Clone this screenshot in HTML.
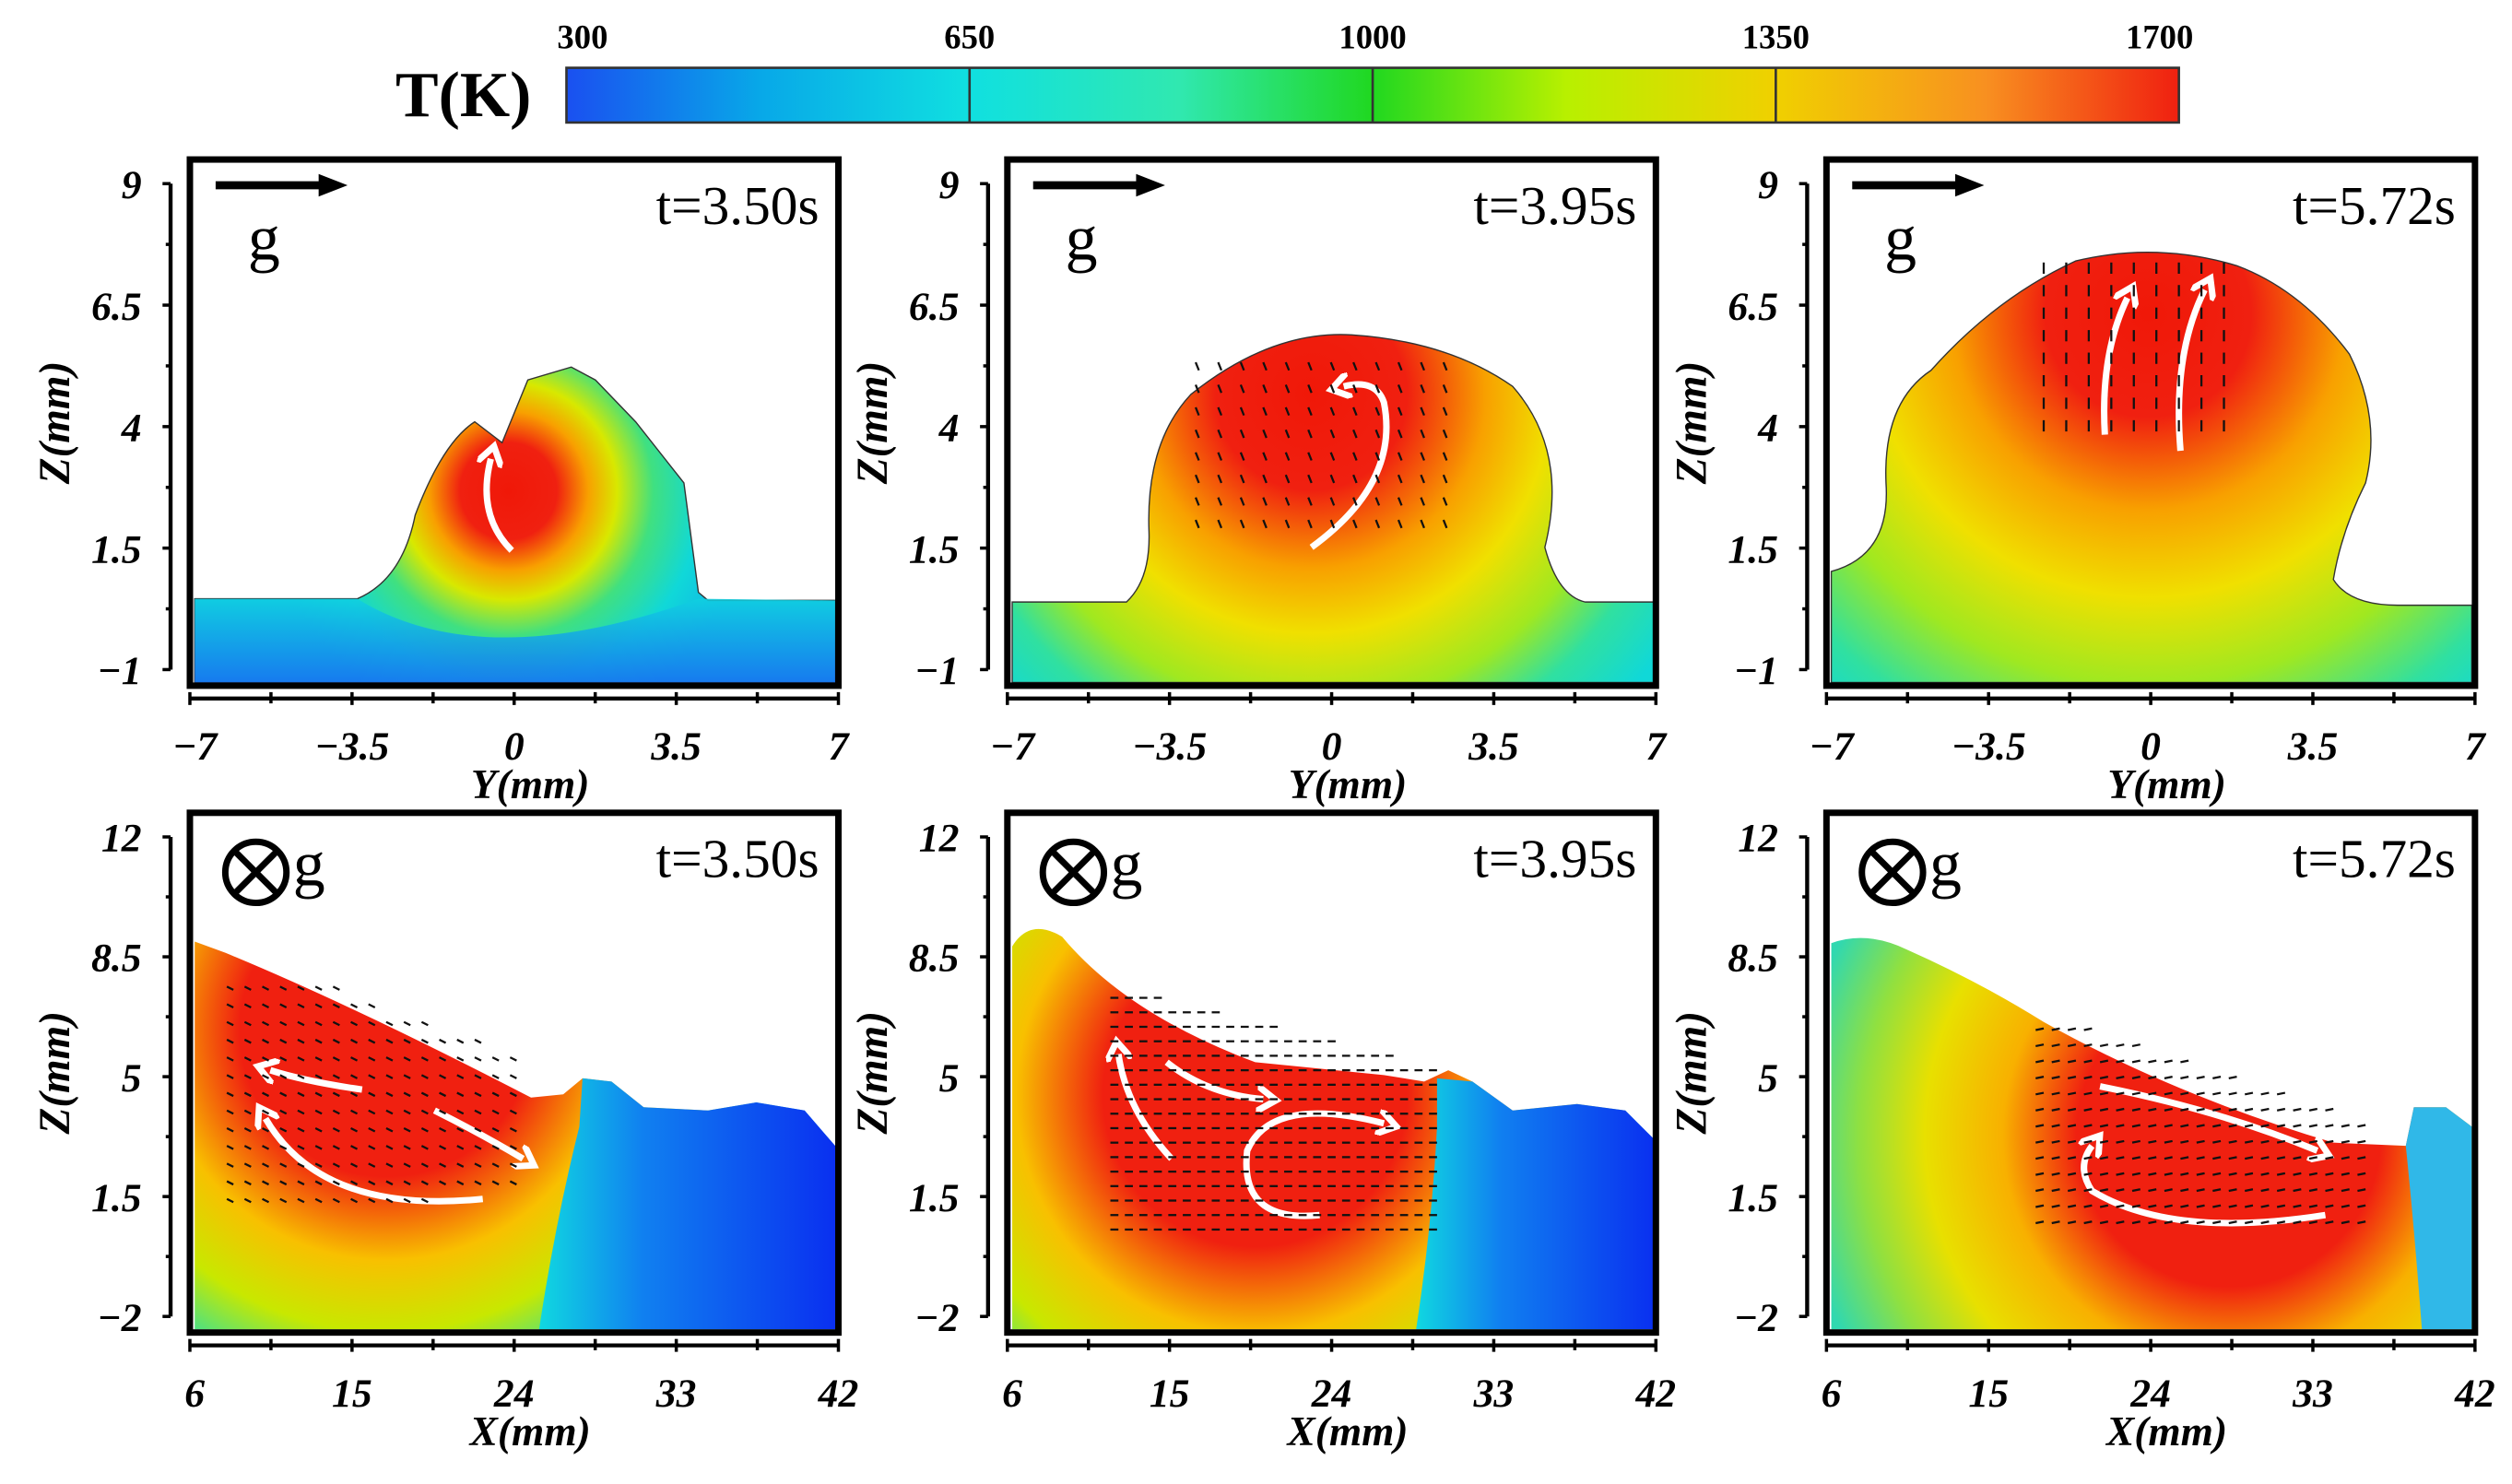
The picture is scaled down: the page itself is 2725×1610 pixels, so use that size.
<!DOCTYPE html>
<html><head><meta charset="utf-8"><style>
html,body{margin:0;padding:0;background:#fff;}
svg{display:block;}
text{font-family:"Liberation Serif",serif;}
</style></head><body>
<svg id="fig" width="2725" height="1610" viewBox="0 0 1561 922" xmlns="http://www.w3.org/2000/svg">
<defs>
<linearGradient id="cbar" x1="0" x2="1" y1="0" y2="0">
<stop offset="0" stop-color="#1a50f0"/><stop offset="0.12" stop-color="#08a8e8"/><stop offset="0.25" stop-color="#10e0e0"/>
<stop offset="0.38" stop-color="#30e8b0"/><stop offset="0.5" stop-color="#20d820"/><stop offset="0.62" stop-color="#b8f000"/>
<stop offset="0.75" stop-color="#f0d000"/><stop offset="0.88" stop-color="#f89020"/><stop offset="1" stop-color="#f02010"/>
</linearGradient>
<radialGradient id="t1" gradientUnits="userSpaceOnUse" cx="316" cy="305" r="150">
<stop offset="0" stop-color="#f01808"/><stop offset="0.2" stop-color="#f02010"/><stop offset="0.33" stop-color="#f8a000"/>
<stop offset="0.45" stop-color="#d8e800"/><stop offset="0.6" stop-color="#40e080"/><stop offset="0.8" stop-color="#10d8d8"/><stop offset="1" stop-color="#10b8e8"/>
</radialGradient>
<linearGradient id="b1" x1="0" x2="0" y1="0" y2="1"><stop offset="0" stop-color="#10d0e0"/><stop offset="1" stop-color="#1870f0"/></linearGradient>
<radialGradient id="t2" gradientUnits="userSpaceOnUse" cx="815" cy="245" r="270">
<stop offset="0" stop-color="#f01808"/><stop offset="0.22" stop-color="#f02010"/><stop offset="0.4" stop-color="#f8a000"/>
<stop offset="0.55" stop-color="#f0e000"/><stop offset="0.72" stop-color="#a0e820"/><stop offset="0.85" stop-color="#30e0a0"/><stop offset="1" stop-color="#10d8d8"/>
</radialGradient>
<radialGradient id="t3" gradientUnits="userSpaceOnUse" cx="1335" cy="195" r="320">
<stop offset="0" stop-color="#f01808"/><stop offset="0.2" stop-color="#f02010"/><stop offset="0.38" stop-color="#f8a000"/>
<stop offset="0.55" stop-color="#f0e000"/><stop offset="0.72" stop-color="#a0e820"/><stop offset="0.88" stop-color="#30e0a0"/><stop offset="1" stop-color="#10d8d8"/>
</radialGradient>
<radialGradient id="bb1" gradientUnits="userSpaceOnUse" cx="240" cy="640" r="260">
<stop offset="0" stop-color="#f02010"/><stop offset="0.35" stop-color="#f02010"/><stop offset="0.55" stop-color="#f8c000"/>
<stop offset="0.72" stop-color="#c8e800"/><stop offset="0.88" stop-color="#30e0a0"/><stop offset="1" stop-color="#10c8e0"/>
</radialGradient>
<radialGradient id="bb2" gradientUnits="userSpaceOnUse" cx="780" cy="680" r="270">
<stop offset="0" stop-color="#f02010"/><stop offset="0.35" stop-color="#f02010"/><stop offset="0.55" stop-color="#f8c000"/>
<stop offset="0.72" stop-color="#c8e800"/><stop offset="0.88" stop-color="#30e0a0"/><stop offset="1" stop-color="#10c8e0"/>
</radialGradient>
<radialGradient id="bb3" gradientUnits="userSpaceOnUse" cx="1385" cy="705" r="270">
<stop offset="0" stop-color="#f02010"/><stop offset="0.35" stop-color="#f02010"/><stop offset="0.52" stop-color="#f8b000"/>
<stop offset="0.7" stop-color="#e8e000"/><stop offset="0.85" stop-color="#90e040"/><stop offset="1" stop-color="#30d8b0"/>
</radialGradient>
<linearGradient id="blue" x1="0" x2="1" y1="0" y2="0"><stop offset="0" stop-color="#10d8e0"/><stop offset="0.35" stop-color="#1080f0"/><stop offset="1" stop-color="#0a30f0"/></linearGradient>
<marker id="wh" markerWidth="4" markerHeight="4" refX="1" refY="2" orient="auto"><path d="M0,0 L3,2 L0,4" fill="none" stroke="#fff" stroke-width="1"/></marker>
</defs>

<g>
<text x="288" y="72" font-size="40" font-weight="bold" text-anchor="middle">T(K)</text>
<rect x="352" y="42" width="1002" height="34" fill="url(#cbar)" stroke="#333" stroke-width="1.5"/>
<g id="cbticks"></g>
</g>

<g>
<path d="M121,372 L222,372 Q250,360 258,320 Q275,275 295,262 L312,275 L328,236 L355,228 L370,236 L395,262 L425,300 L434,368 L440,373 L519,373 L519,424 L121,424 Z" fill="url(#t1)" stroke="#333" stroke-width="0.8"/>
<path d="M121,372 L222,372 Q300,420 434,372 L519,373 L519,424 L121,424 Z" fill="url(#b1)" opacity="0.85"/>
<path d="M318,342 Q296,320 305,285" fill="none" stroke="#fff" stroke-width="4" marker-end="url(#wh)"/>
</g>
<g>
<path d="M629,374 L700,374 Q715,360 714,330 Q712,275 740,245 Q790,205 840,208 Q900,212 940,240 Q975,280 960,340 Q968,370 985,374 L1028,374 L1028,424 L629,424 Z" fill="url(#t2)" stroke="#333" stroke-width="0.8"/>
<path d="M815,340 Q870,300 860,250 Q855,235 835,240" fill="none" stroke="#fff" stroke-width="4" marker-end="url(#wh)"/>
</g>
<g>
<path d="M1138,355 Q1175,345 1172,300 Q1170,250 1200,230 Q1240,185 1290,162 Q1340,150 1390,165 Q1430,180 1460,220 Q1480,260 1470,300 Q1455,330 1450,360 Q1460,376 1490,376 L1536,376 L1536,424 L1138,424 Z" fill="url(#t3)" stroke="#333" stroke-width="0.8"/>
<path d="M1308,270 Q1305,220 1322,185" fill="none" stroke="#fff" stroke-width="4" marker-end="url(#wh)"/>
<path d="M1355,280 Q1350,220 1370,180" fill="none" stroke="#fff" stroke-width="4" marker-end="url(#wh)"/>
</g>
<g>
<path d="M121,585 L140,592 Q220,625 330,682 L350,680 L362,670 L380,672 L400,688 L440,690 L470,685 L500,690 L519,712 L519,826 L121,826 Z" fill="url(#bb1)"/>
<path d="M362,670 L380,672 L400,688 L440,690 L470,685 L500,690 L519,712 L519,826 L335,826 Q345,760 360,700 Z" fill="url(#blue)"/>
<path d="M270,690 Q300,705 325,720" fill="none" stroke="#fff" stroke-width="4" marker-end="url(#wh)"/>
<path d="M225,677 Q190,672 168,665" fill="none" stroke="#fff" stroke-width="4" marker-end="url(#wh)"/>
<path d="M300,745 Q200,755 165,695" fill="none" stroke="#fff" stroke-width="4" marker-end="url(#wh)"/>
</g>
<g>
<path d="M629,588 Q640,570 660,582 Q700,630 780,660 L860,668 L885,672 L900,665 L915,672 L940,690 L980,686 L1010,690 L1028,708 L1028,826 L629,826 Z" fill="url(#bb2)"/>
<path d="M893,670 L915,672 L940,690 L980,686 L1010,690 L1028,708 L1028,826 L880,826 Q890,760 893,700 Z" fill="url(#blue)"/>
<path d="M728,720 Q700,690 695,655" fill="none" stroke="#fff" stroke-width="4" marker-end="url(#wh)"/>
<path d="M725,660 Q750,680 785,683" fill="none" stroke="#fff" stroke-width="4" marker-end="url(#wh)"/>
<path d="M820,755 Q770,760 775,715 Q790,680 860,698" fill="none" stroke="#fff" stroke-width="4" marker-end="url(#wh)"/>
</g>
<g>
<path d="M1138,586 Q1160,578 1185,590 Q1230,610 1270,635 Q1350,680 1450,710 L1495,712 L1500,688 L1520,688 L1536,700 L1536,826 L1138,826 Z" fill="url(#bb3)"/>
<path d="M1495,712 L1500,688 L1520,688 L1536,700 L1536,826 L1505,826 Q1500,760 1495,712 Z" fill="#30b8e8"/>
<path d="M1305,675 Q1380,690 1440,715" fill="none" stroke="#fff" stroke-width="4" marker-end="url(#wh)"/>
<path d="M1445,755 Q1350,770 1300,740 Q1290,725 1300,712" fill="none" stroke="#fff" stroke-width="4" marker-end="url(#wh)"/>
</g>

<g id="axes"></g>
<g id="arrows"></g>
</svg>
<script>
const NS="http://www.w3.org/2000/svg";
const cbValues=[300,650,1000,1350,1700];
const topYTicks=[9,6.5,4,1.5,-1];
const topXTicks=[-7,-3.5,0,3.5,7];
const botYTicks=[12,8.5,5,1.5,-2];
const botXTicks=[6,15,24,33,42];
const times=["t=3.50s","t=3.95s","t=5.72s"];
const panelX=[118,626,1135];
const svg=document.getElementById('fig');
function el(t,a,p){const e=document.createElementNS(NS,t);for(const k in a)e.setAttribute(k,a[k]);(p||svg).appendChild(e);return e;}
const cb=document.getElementById('cbticks');
const cbx=v=>352+(v-300)/(1700-300)*1002;
cbValues.forEach((v,i)=>{
  if(i>0&&i<cbValues.length-1){const l=el('line',{x1:cbx(v),x2:cbx(v),y1:42,y2:76,stroke:'#333','stroke-width':1.5},cb);
  
  }
  const t=el('text',{x:cbx(v)-(i==cbValues.length-1?12:0)+(i==0?10:0),y:30,'font-size':21,'font-weight':'bold','font-family':'Liberation Sans, sans-serif','text-anchor':'middle'},cb);t.textContent=v;
  
  
});
const ax=document.getElementById('axes');
function panel(px,top,bottom,yT,xT,xLabel,row,i){
  const w=403,h=bottom-top;
  const g=el('g',{},ax);
  
  
  el('rect',{x:px,y:top,width:w,height:h,fill:'none',stroke:'#000','stroke-width':4},g);
  const y0=top+15,y1=bottom-10;
  const ys=v=>y0+(yT[0]-v)/(yT[0]-yT[yT.length-1])*(y1-y0);
  const xs=v=>px+(v-xT[0])/(xT[xT.length-1]-xT[0])*w;
  el('line',{x1:px-12,x2:px-12,y1:y0,y2:y1,stroke:'#000','stroke-width':2.5},g);
  yT.forEach((v,k)=>{
    el('line',{x1:px-17,x2:px-12,y1:ys(v),y2:ys(v),stroke:'#000','stroke-width':2},g);
    if(k<yT.length-1){const m=(v+yT[k+1])/2;el('line',{x1:px-15,x2:px-12,y1:ys(m),y2:ys(m),stroke:'#000','stroke-width':2},g);}
    const t=el('text',{x:px-30,y:ys(v)+9,'font-size':25,'font-weight':'bold','font-style':'italic','text-anchor':'end'},g);t.textContent=v<0?'\u2212'+(-v):v;
    
    
  });
  const ay=bottom+8;
  el('line',{x1:px,x2:px+w,y1:ay,y2:ay,stroke:'#000','stroke-width':2.5},g);
  xT.forEach((v,k)=>{
    el('line',{x1:xs(v),x2:xs(v),y1:ay-4,y2:ay+4,stroke:'#000','stroke-width':2},g);
    if(k<xT.length-1){const m=(v+xT[k+1])/2;el('line',{x1:xs(m),x2:xs(m),y1:ay-4,y2:ay+3,stroke:'#000','stroke-width':2},g);}
    const t=el('text',{x:xs(v)+ (k==0?3:0),y:ay+38,'font-size':25,'font-weight':'bold','font-style':'italic','text-anchor':'middle'},g);t.textContent=v<0?'\u2212'+(-v):v;
    
    
  });
  const xl=el('text',{x:px+w/2+10,y:ay+62,'font-size':26,'font-weight':'bold','font-style':'italic','text-anchor':'middle'},g);xl.textContent=xLabel;
  
  
  const yl=el('text',{x:0,y:0,'font-size':27,'font-weight':'bold','font-style':'italic','text-anchor':'middle',transform:`translate(${px-75},${(top+bottom)/2}) rotate(-90)`},g);yl.textContent='Z(mm)';
  
  
  const tt=el('text',{x:px+w-12,y:top+40,'font-size':34,'text-anchor':'end'},g);tt.textContent=times[i];
  
  
  if(row==='top'){
    el('line',{x1:px+16,x2:px+82,y1:top+16,y2:top+16,stroke:'#000','stroke-width':5},g);
    el('path',{d:`M${px+80},${top+9} L${px+98},${top+16} L${px+80},${top+23} Z`,fill:'#000'},g);
    const gt=el('text',{x:px+36,y:top+62,'font-size':40},g);gt.textContent='g';
    
    
  } else {
    el('circle',{cx:px+41,cy:top+37,r:19,fill:'none',stroke:'#000','stroke-width':4},g);
    el('line',{x1:px+28,y1:top+24,x2:px+54,y2:top+50,stroke:'#000','stroke-width':4},g);
    el('line',{x1:px+54,y1:top+24,x2:px+28,y2:top+50,stroke:'#000','stroke-width':4},g);
    const gt=el('text',{x:px+64,y:top+45,'font-size':40},g);gt.textContent='g';
    
    
  }
}
panelX.forEach((px,i)=>{panel(px,99,426,topYTicks,topXTicks,'Y(mm)','top',i);panel(px,505,828,botYTicks,botXTicks,'X(mm)','bottom',i);});
const ar=document.getElementById('arrows');
function field(x0,x1,y0,y1,step,dx,dy,inside){
  for(let x=x0;x<=x1;x+=step)for(let y=y0;y<=y1;y+=step){ if(inside&&!inside(x,y))continue;
    el('line',{x1:x,y1:y,x2:x+dx,y2:y+dy,stroke:'#111','stroke-width':1.3},ar);}
}
field(145,330,615,755,11,-4,-2,(x,y)=>y>590+(x-140)*0.35 && y<760-(x-140)*0.1);
field(690,890,620,765,9,5,0,(x,y)=>y>610+(x-680)*0.25);
field(1265,1470,640,765,10,5,-1,(x,y)=>y>625+(x-1260)*0.35);
field(745,905,230,330,14,-2,-5,null);
field(1270,1395,170,270,14,0,-7,null);
</script>
</body></html>
